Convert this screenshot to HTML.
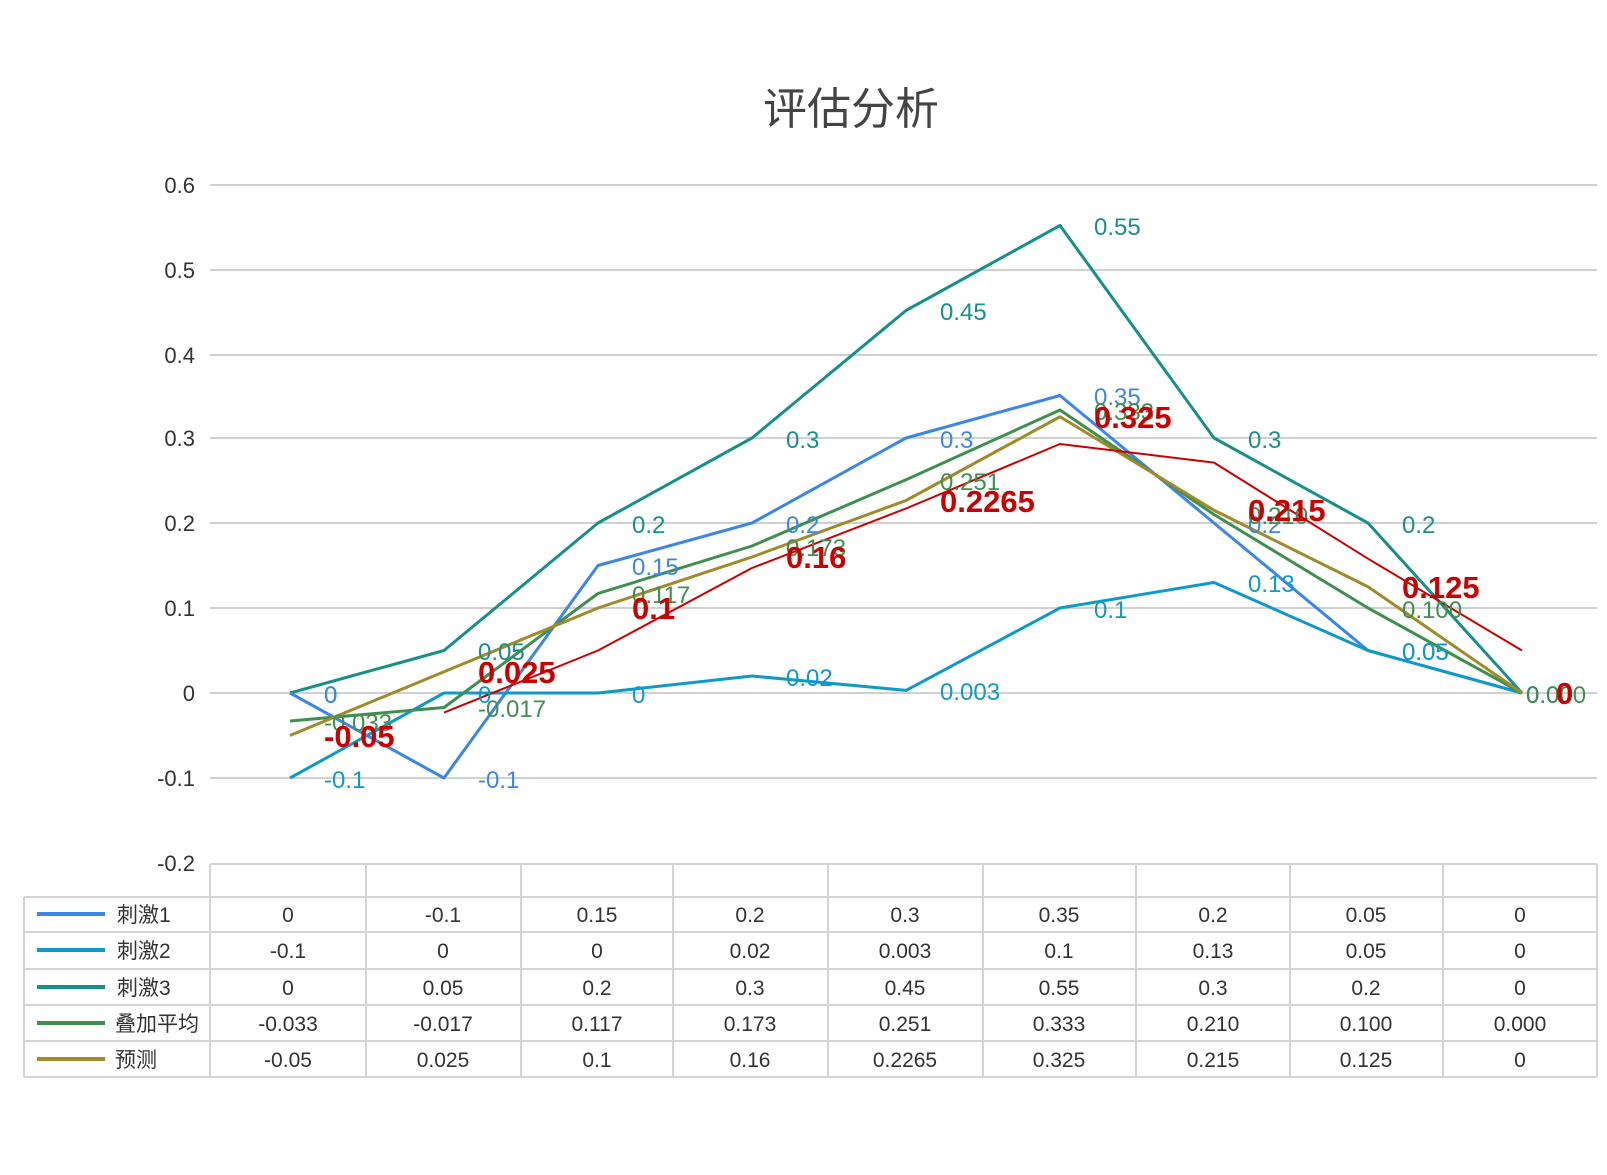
<!DOCTYPE html>
<html><head><meta charset="utf-8"><style>
html,body{margin:0;padding:0;background:#fff;}
svg{display:block;}
text{font-family:"Liberation Sans","Noto Sans CJK SC",sans-serif;}
</style></head><body>
<svg width="1607" height="1175" viewBox="0 0 1607 1175" xmlns="http://www.w3.org/2000/svg">
<text x="851" y="124" font-size="44" fill="#444" text-anchor="middle">评估分析</text>
<!-- gridlines -->
<g stroke="#d0d0d0" stroke-width="2">
<line x1="210" y1="185" x2="1597" y2="185"/>
<line x1="210" y1="270" x2="1597" y2="270"/>
<line x1="210" y1="355" x2="1597" y2="355"/>
<line x1="210" y1="438" x2="1597" y2="438"/>
<line x1="210" y1="523" x2="1597" y2="523"/>
<line x1="210" y1="608" x2="1597" y2="608"/>
<line x1="210" y1="693" x2="1597" y2="693"/>
<line x1="210" y1="778" x2="1597" y2="778"/>
</g>
<g font-size="22" fill="#333" text-anchor="end">
<text x="195" y="193">0.6</text>
<text x="195" y="278">0.5</text>
<text x="195" y="363">0.4</text>
<text x="195" y="446">0.3</text>
<text x="195" y="531">0.2</text>
<text x="195" y="616">0.1</text>
<text x="195" y="701">0</text>
<text x="195" y="786">-0.1</text>
<text x="195" y="871">-0.2</text>
</g>
<!-- series -->
<g fill="none" stroke-width="3" stroke-linejoin="round">
<polyline stroke="#17908a" points="290,693 444,650.5 598,523 752,438 906,310.5 1060,225.5 1214,438 1368,523 1522,693"/>
<polyline stroke="#3b86e8" points="290,693 444,778 598,565.5 752,523 906,438 1060,395.5 1214,523 1368,650.5 1522,693"/>
<polyline stroke="#0e9ac8" points="290,778 444,693 598,693 752,676 906,690.4 1060,608 1214,582.5 1368,650.5 1522,693"/>
<polyline stroke="#3f8f4f" points="290,721 444,707.5 598,593.5 752,546 906,479.7 1060,410 1214,514.5 1368,608 1522,693"/>
<polyline stroke="#a08a2a" points="290,735.5 444,671.75 598,608 752,557 906,500.5 1060,416.75 1214,510.25 1368,586.75 1522,693"/>
<polyline stroke="#cc0000" stroke-width="2" points="444,712.6 598,650.5 752,568 906,508.5 1060,444 1214,462.6 1368,558.7 1522,650.5"/>
</g>
<!-- labels -->
<g font-size="24" fill="#17908a">
<text x="324" y="703">0</text><text x="478" y="660">0.05</text><text x="632" y="533">0.2</text><text x="786" y="448">0.3</text><text x="940" y="320">0.45</text><text x="1094" y="235">0.55</text><text x="1248" y="448">0.3</text><text x="1402" y="533">0.2</text><text x="1526" y="703">0</text>
</g>
<g font-size="24" fill="#3b86e8">
<text x="324" y="703">0</text><text x="478" y="788">-0.1</text><text x="632" y="575">0.15</text><text x="786" y="533">0.2</text><text x="940" y="448">0.3</text><text x="1094" y="405">0.35</text><text x="1248" y="533">0.2</text><text x="1402" y="660">0.05</text>
</g>
<g font-size="24" fill="#0e9ac8">
<text x="324" y="788">-0.1</text><text x="478" y="703">0</text><text x="632" y="703">0</text><text x="786" y="686">0.02</text><text x="940" y="700">0.003</text><text x="1094" y="618">0.1</text><text x="1248" y="592">0.13</text><text x="1402" y="660">0.05</text><text x="1526" y="703">0.0</text>
</g>
<g font-size="24" fill="#3f8f4f">
<text x="324" y="731">-0.033</text><text x="478" y="717">-0.017</text><text x="632" y="603">0.117</text><text x="786" y="556">0.173</text><text x="940" y="490">0.251</text><text x="1094" y="420">0.333</text><text x="1248" y="524">0.210</text><text x="1402" y="618">0.100</text><text x="1526" y="703">0.000</text>
</g>
<g font-size="31" font-weight="bold" fill="#cc0000">
<text x="324" y="747">-0.05</text><text x="478" y="683">0.025</text><text x="632" y="619">0.1</text><text x="786" y="568">0.16</text><text x="940" y="512">0.2265</text><text x="1094" y="428">0.325</text><text x="1248" y="521">0.215</text><text x="1402" y="598">0.125</text><text x="1556" y="704">0</text>
</g>
<!-- table -->
<g stroke="#d4d4d4" stroke-width="2" fill="none">
<line x1="210" y1="864" x2="1597" y2="864"/>
<line x1="24" y1="897" x2="1597" y2="897"/>
<line x1="24" y1="932" x2="1597" y2="932"/>
<line x1="24" y1="969" x2="1597" y2="969"/>
<line x1="24" y1="1005" x2="1597" y2="1005"/>
<line x1="24" y1="1041" x2="1597" y2="1041"/>
<line x1="24" y1="1077" x2="1597" y2="1077"/>
<line x1="24" y1="897" x2="24" y2="1077"/>
<line x1="210" y1="864" x2="210" y2="1077"/>
<line x1="366" y1="864" x2="366" y2="1077"/>
<line x1="521" y1="864" x2="521" y2="1077"/>
<line x1="673" y1="864" x2="673" y2="1077"/>
<line x1="828" y1="864" x2="828" y2="1077"/>
<line x1="983" y1="864" x2="983" y2="1077"/>
<line x1="1136" y1="864" x2="1136" y2="1077"/>
<line x1="1290" y1="864" x2="1290" y2="1077"/>
<line x1="1443" y1="864" x2="1443" y2="1077"/>
<line x1="1597" y1="864" x2="1597" y2="1077"/>
</g>
<g stroke-width="4">
<line x1="37" y1="914" x2="105" y2="914" stroke="#3b86e8"/>
<line x1="37" y1="950" x2="105" y2="950" stroke="#0e9ac8"/>
<line x1="37" y1="987" x2="105" y2="987" stroke="#17908a"/>
<line x1="37" y1="1023" x2="105" y2="1023" stroke="#3f8f4f"/>
<line x1="37" y1="1059" x2="105" y2="1059" stroke="#a08a2a"/>
</g>
<g font-size="21" fill="#333">
<text x="117" y="922">刺激1</text>
<text x="117" y="958">刺激2</text>
<text x="117" y="995">刺激3</text>
<text x="115" y="1031">叠加平均</text>
<text x="115" y="1067">预测</text>
</g>
<g font-size="21" fill="#333" text-anchor="middle">
<text x="288" y="922">0</text><text x="443" y="922">-0.1</text><text x="597" y="922">0.15</text><text x="750" y="922">0.2</text><text x="905" y="922">0.3</text><text x="1059" y="922">0.35</text><text x="1213" y="922">0.2</text><text x="1366" y="922">0.05</text><text x="1520" y="922">0</text>
<text x="288" y="958">-0.1</text><text x="443" y="958">0</text><text x="597" y="958">0</text><text x="750" y="958">0.02</text><text x="905" y="958">0.003</text><text x="1059" y="958">0.1</text><text x="1213" y="958">0.13</text><text x="1366" y="958">0.05</text><text x="1520" y="958">0</text>
<text x="288" y="995">0</text><text x="443" y="995">0.05</text><text x="597" y="995">0.2</text><text x="750" y="995">0.3</text><text x="905" y="995">0.45</text><text x="1059" y="995">0.55</text><text x="1213" y="995">0.3</text><text x="1366" y="995">0.2</text><text x="1520" y="995">0</text>
<text x="288" y="1031">-0.033</text><text x="443" y="1031">-0.017</text><text x="597" y="1031">0.117</text><text x="750" y="1031">0.173</text><text x="905" y="1031">0.251</text><text x="1059" y="1031">0.333</text><text x="1213" y="1031">0.210</text><text x="1366" y="1031">0.100</text><text x="1520" y="1031">0.000</text>
<text x="288" y="1067">-0.05</text><text x="443" y="1067">0.025</text><text x="597" y="1067">0.1</text><text x="750" y="1067">0.16</text><text x="905" y="1067">0.2265</text><text x="1059" y="1067">0.325</text><text x="1213" y="1067">0.215</text><text x="1366" y="1067">0.125</text><text x="1520" y="1067">0</text>
</g>
</svg>
</body></html>
